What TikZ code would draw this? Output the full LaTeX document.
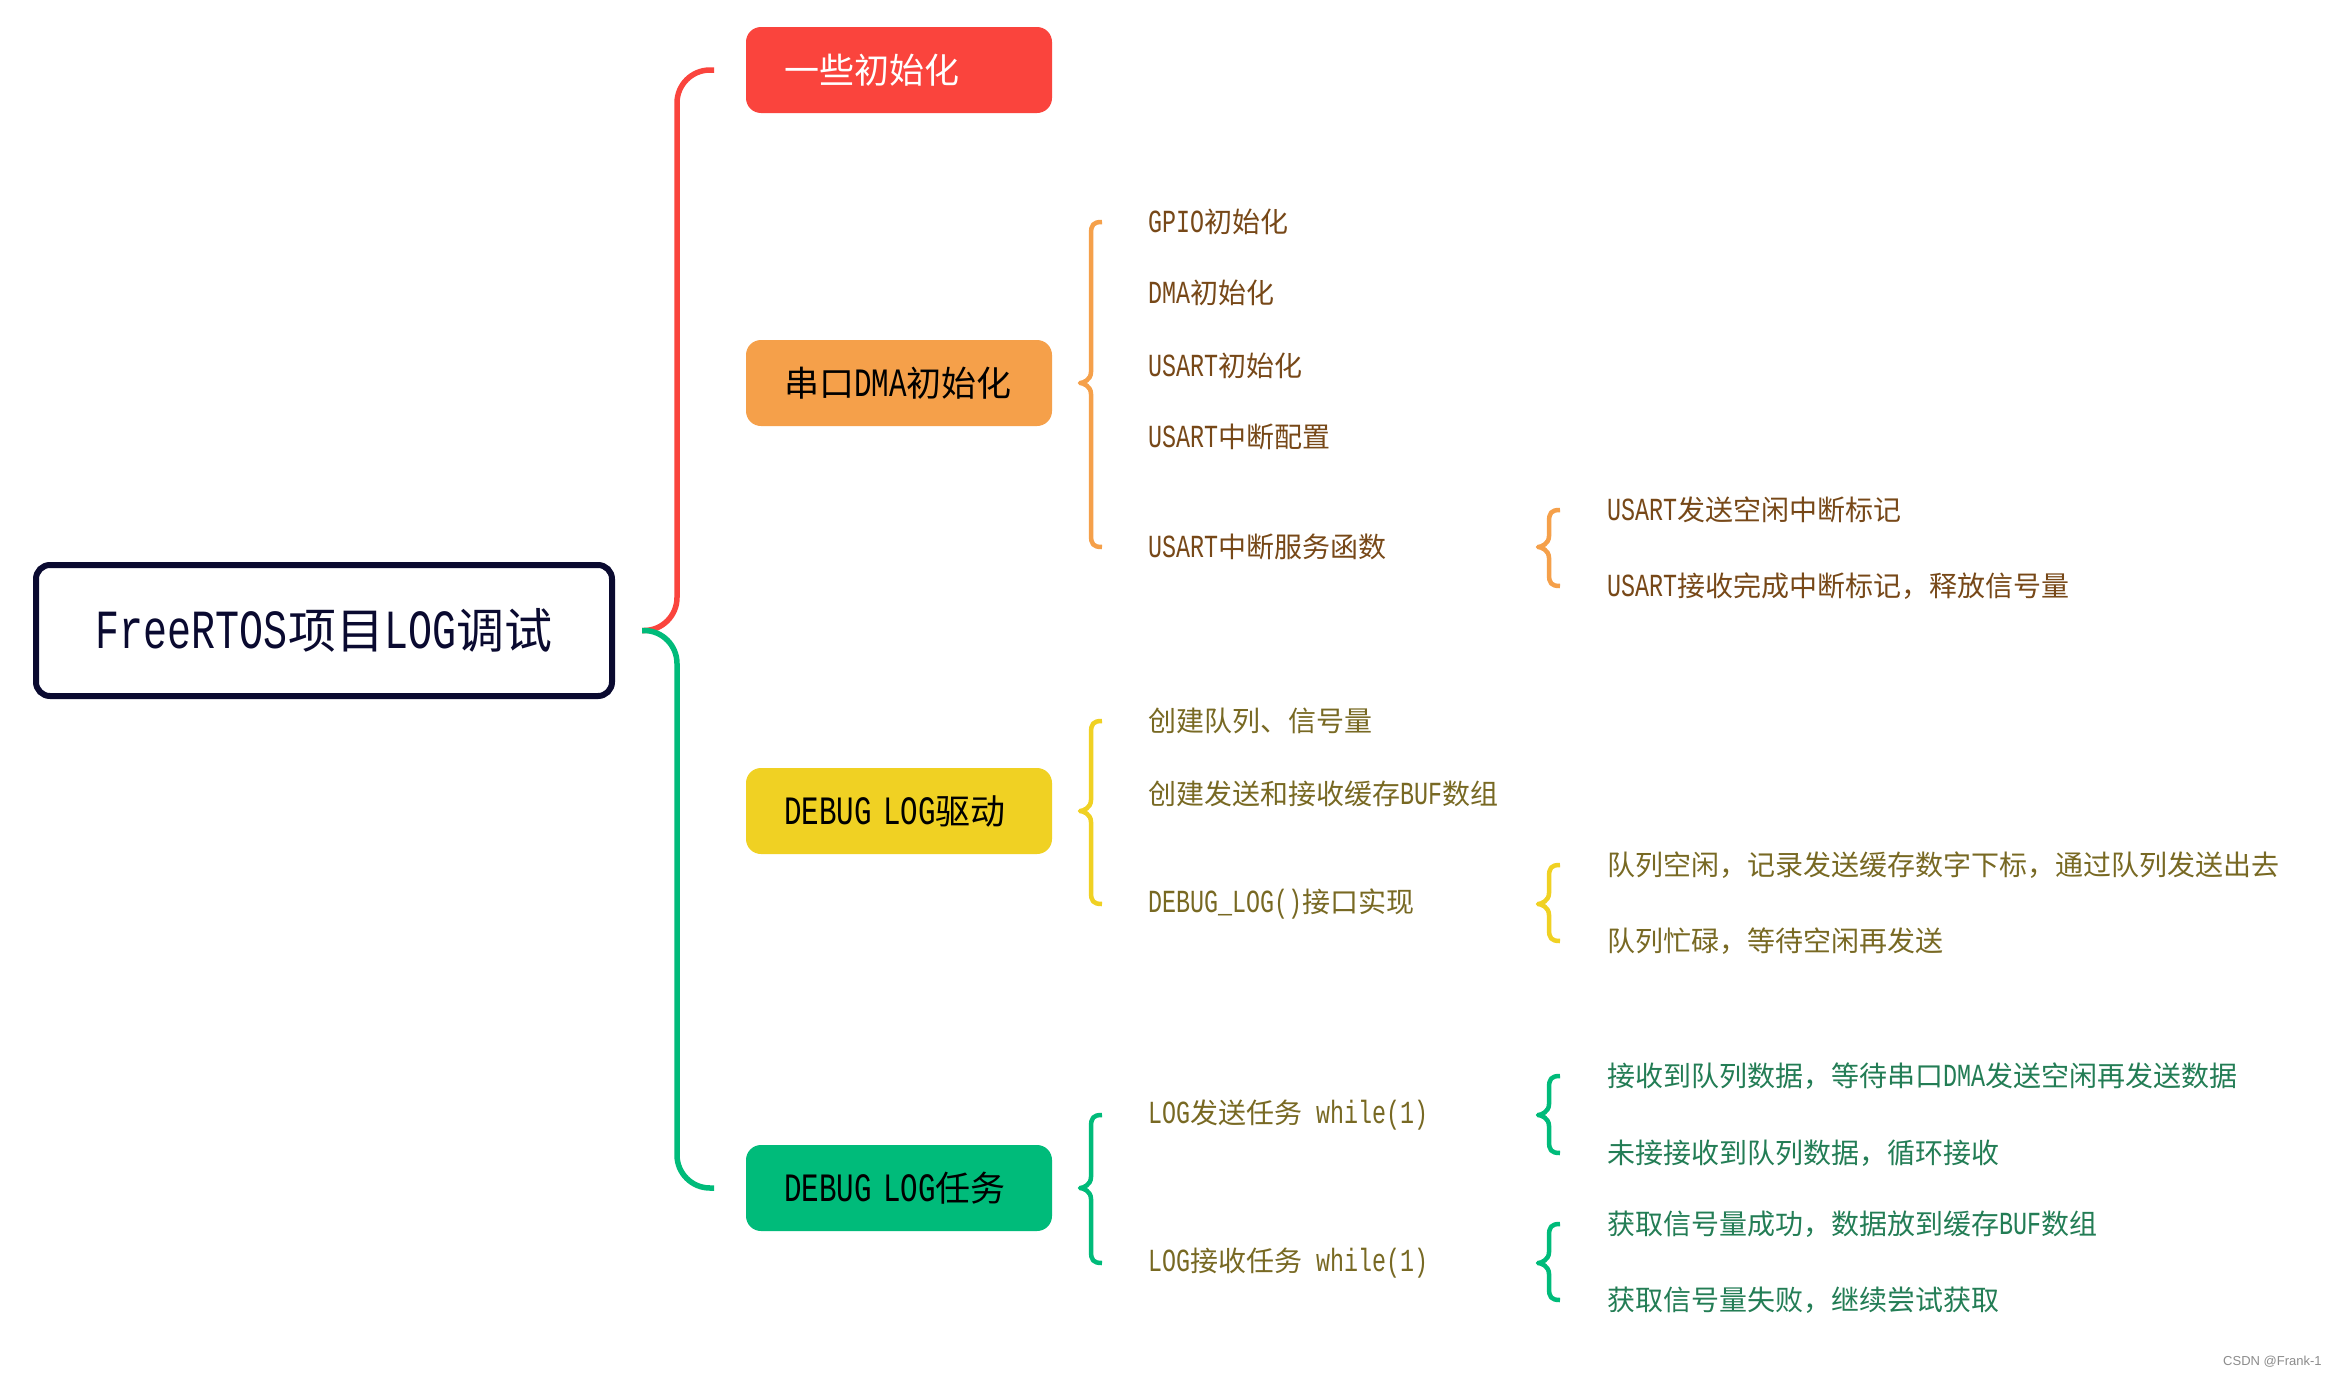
\documentclass[tikz,border=0pt]{standalone}
\usepackage{fontspec}
\setmainfont{Noto Sans CJK SC}
\newfontfamily\lt[Scale=1.15,FakeStretch=0.725]{Liberation Mono}
\newfontfamily\wmfont{Liberation Sans}
\usetikzlibrary{calc}
\definecolor{cred}{HTML}{FA443D}
\definecolor{corange}{HTML}{F5A04A}
\definecolor{cyellow}{HTML}{F0D123}
\definecolor{cgreen}{HTML}{00BB7A}
\definecolor{cnavy}{HTML}{0A0A30}
\definecolor{tbrown}{HTML}{774818}
\definecolor{tolive}{HTML}{786923}
\definecolor{tgreen}{HTML}{237D55}
\tikzset{
  rootbox/.style={draw=cnavy, line width=6pt, rounded corners=14pt,
    minimum width=576pt, minimum height=131pt, inner sep=0pt,
    text=cnavy, font=\fontsize{48}{56}\selectfont},
  topicbox/.style={fill=#1, rounded corners=15pt, anchor=west,
    minimum height=86pt, text width=230pt, inner xsep=38pt, inner ysep=0pt,
    align=left, outer sep=0pt, font=\fontsize{35}{42}\selectfont},
  item/.style={anchor=west, inner sep=0pt, outer sep=0pt, text=#1,
    yshift=-2pt, font=\fontsize{28}{34}\selectfont},
  conn/.style={line width=5.5pt, rounded corners=33pt},
  brcline/.style={line width=4.5pt, line join=round}
}
\newcommand\brc[5]{%
  \draw[brcline,#1] let \p1=(#3.west), \p2=(#4.west), \p3=(#5.west), \p4=(#2,0) in
    (\x4+22pt,\y2) .. controls (\x4+13pt,\y2) and (\x4+11pt,\y2-3pt) .. (\x4+11pt,\y2-12pt)
    -- (\x4+11pt,\y1+11pt) .. controls (\x4+11pt,\y1+3pt) and (\x4+3pt,\y1) .. (\x4,\y1)
    .. controls (\x4+3pt,\y1) and (\x4+11pt,\y1-3pt) .. (\x4+11pt,\y1-11pt)
    -- (\x4+11pt,\y3+12pt) .. controls (\x4+11pt,\y3+3pt) and (\x4+13pt,\y3) .. (\x4+22pt,\y3);
}
\begin{document}
\begin{tikzpicture}[x=1pt,y=-1pt]
\fill[white] (0,0) rectangle (2329,1376);
\useasboundingbox (0,0) rectangle (2329,1376);

\node[rootbox] (root) at (324,630.5) {{\lt FreeRTOS}项目{\lt LOG}调试};

\node[topicbox=cred, text=white] (b1) at (746,70) {一些初始化};
\node[topicbox=corange, text=black] (b2) at (746,383) {串口{\lt DMA}初始化};
\node[topicbox=cyellow, text=black] (b3) at (746,811) {{\lt DEBUG LOG}驱动};
\node[topicbox=cgreen, text=black] (b4) at (746,1188) {{\lt DEBUG LOG}任务};

\draw[conn, cred] ($(root.east)+(27,0)$) -| ($(b1.west)+(-69,0)$) -- ($(b1.west)+(-32,0)$);
\draw[conn, cgreen] ($(root.east)+(27,0)$) -| ($(b4.west)+(-69,0)$) -- ($(b4.west)+(-32,0)$);

% orange branch
\node[item=tbrown] (o1) at (1148,220) {{\lt GPIO}初始化};
\node[item=tbrown] (o2) at (1148,291) {{\lt DMA}初始化};
\node[item=tbrown] (o3) at (1148,364) {{\lt USART}初始化};
\node[item=tbrown] (o4) at (1148,435) {{\lt USART}中断配置};
\node[item=tbrown] (o5) at (1148,545) {{\lt USART}中断服务函数};
\node[item=tbrown] (o51) at (1607,508) {{\lt USART}发送空闲中断标记};
\node[item=tbrown] (o52) at (1607,584) {{\lt USART}接收完成中断标记，释放信号量};
\brc{corange}{1080}{b2}{o1}{o5}
\brc{corange}{1538}{o5}{o51}{o52}

% yellow branch
\node[item=tolive] (y1) at (1148,719) {创建队列、信号量};
\node[item=tolive] (y2) at (1148,792) {创建发送和接收缓存{\lt BUF}数组};
\node[item=tolive] (y3) at (1148,902) {{\lt DEBUG\_LOG()}接口实现};
\node[item=tolive] (y31) at (1607,863) {队列空闲，记录发送缓存数字下标，通过队列发送出去};
\node[item=tolive] (y32) at (1607,939) {队列忙碌，等待空闲再发送};
\brc{cyellow}{1080}{b3}{y1}{y3}
\brc{cyellow}{1538}{y3}{y31}{y32}

% green branch
\node[item=tolive] (g1) at (1148,1113) {{\lt LOG}发送任务{\lt\space while(1)}};
\node[item=tolive] (g2) at (1148,1261) {{\lt LOG}接收任务{\lt\space while(1)}};
\node[item=tgreen] (g11) at (1607,1074) {接收到队列数据，等待串口{\lt DMA}发送空闲再发送数据};
\node[item=tgreen] (g12) at (1607,1151) {未接接收到队列数据，循环接收};
\node[item=tgreen] (g21) at (1607,1222) {获取信号量成功，数据放到缓存{\lt BUF}数组};
\node[item=tgreen] (g22) at (1607,1298) {获取信号量失败，继续尝试获取};
\brc{cgreen}{1080}{b4}{g1}{g2}
\brc{cgreen}{1538}{g1}{g11}{g12}
\brc{cgreen}{1538}{g2}{g21}{g22}

\node[anchor=west, inner sep=0pt, text=black!45, font=\wmfont\fontsize{13}{15}\selectfont] (wm) at (2223,1362) {CSDN @Frank-1};
\end{tikzpicture}
\end{document}
